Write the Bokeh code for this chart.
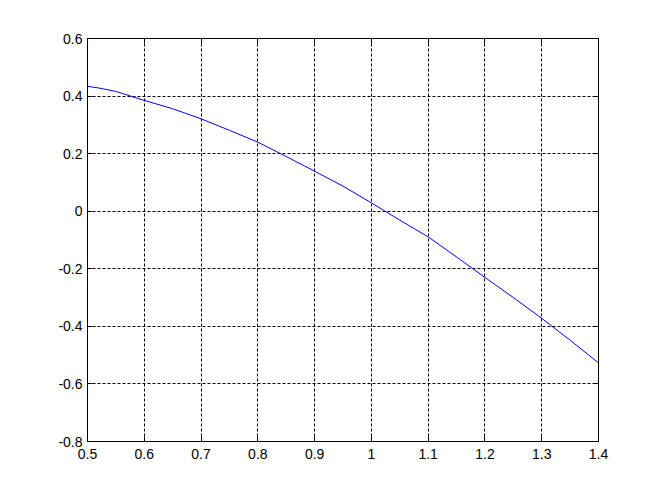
from bokeh.plotting import figure
from bokeh.models import LinearAxis, Range1d, FixedTicker
from bokeh.embed import file_html
from bokeh.resources import INLINE

x_vals = [0.5, 0.52, 0.55, 0.6, 0.65, 0.7, 0.75, 0.8, 0.85, 0.9, 0.95, 1.0,
          1.05, 1.1, 1.15, 1.2, 1.25, 1.3, 1.35, 1.4]
y_vals = [0.434, 0.428, 0.416, 0.385, 0.356, 0.321, 0.281, 0.240, 0.190, 0.139,
          0.087, 0.029, -0.031, -0.089, -0.159, -0.230, -0.300, -0.372, -0.448, -0.527]

x_ticks = [0.5, 0.6, 0.7, 0.8, 0.9, 1.0, 1.1, 1.2, 1.3, 1.4]
y_ticks = [-0.8, -0.6, -0.4, -0.2, 0.0, 0.2, 0.4, 0.6]
x_labels = {0.5: "0.5", 0.6: "0.6", 0.7: "0.7", 0.8: "0.8", 0.9: "0.9", 1.0: "1",
            1.1: "1.1", 1.2: "1.2", 1.3: "1.3", 1.4: "1.4"}
y_labels = {-0.8: "-0.8", -0.6: "-0.6", -0.4: "-0.4", -0.2: "-0.2", 0.0: "0",
            0.2: "0.2", 0.4: "0.4", 0.6: "0.6"}

W, H = 645, 480
p = figure(width=W, height=H, output_backend="svg", toolbar_location=None,
           x_range=Range1d(0.5, 1.4), y_range=Range1d(-0.8, 0.6),
           min_border_left=87, min_border_right=W - 598, min_border_top=38,
           min_border_bottom=H - 441, background_fill_color="white",
           border_fill_color="white", outline_line_color="black",
           outline_line_width=1)

font = "Liberation Sans"

def style_axis(ax, ticks, labels, show_labels=True):
    ax.ticker = FixedTicker(ticks=ticks)
    ax.major_label_overrides = labels
    ax.major_tick_in = 5
    ax.major_tick_out = 0
    ax.minor_tick_in = 0
    ax.minor_tick_out = 0
    ax.axis_line_color = "black"
    ax.major_tick_line_color = "black"
    ax.major_label_text_font = font
    ax.major_label_text_font_size = "14px"
    ax.major_label_text_color = "black"
    if not show_labels:
        ax.major_label_text_font_size = "0px"
        ax.major_label_text_alpha = 0

style_axis(p.xaxis[0], x_ticks, x_labels)
style_axis(p.yaxis[0], y_ticks, y_labels)
p.xaxis[0].major_label_standoff = 7

top = LinearAxis()
style_axis(top, x_ticks, x_labels, show_labels=False)
p.add_layout(top, "above")
right = LinearAxis()
style_axis(right, y_ticks, y_labels, show_labels=False)
p.add_layout(right, "right")

for g, t in ((p.xgrid[0], x_ticks), (p.ygrid[0], y_ticks)):
    g.ticker = FixedTicker(ticks=t)
    g.grid_line_color = "black"
    g.grid_line_dash = "3 2"
    g.grid_line_width = 1

p.line(x_vals, y_vals, line_color="#0000ff", line_width=1)

open("out.html", "w").write(file_html(p, INLINE))
